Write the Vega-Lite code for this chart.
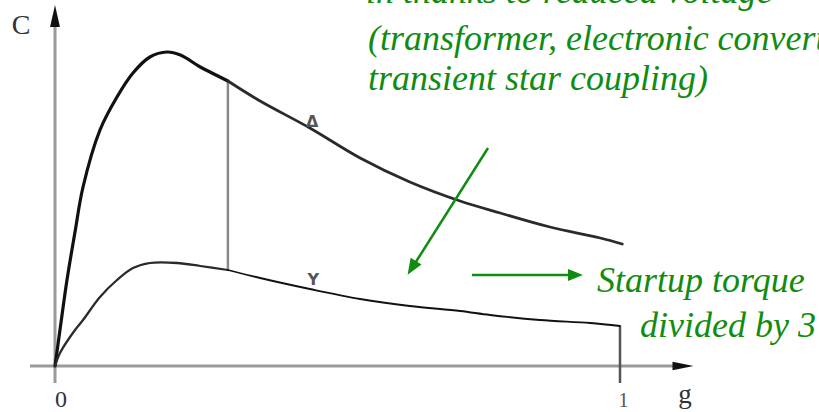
{
  "$schema": "https://vega.github.io/schema/vega-lite/v6.json",
  "width": 819,
  "height": 412,
  "padding": 0,
  "autosize": {"type": "none"},
  "background": "white",
  "config": {"view": {"stroke": null}},
  "encoding": {
    "x": {"field": "g", "type": "quantitative", "scale": {"domain": [-0.09735, 1.35221], "nice": false, "zero": false}, "axis": null},
    "y": {"field": "C", "type": "quantitative", "scale": {"domain": [-0.46, 3.66], "nice": false, "zero": false}, "axis": null}
  },
  "layer": [
    {
      "data": {"values": [
        {"part": "C axis", "g": 0, "C": -0.17, "g2": 0, "C2": 3.4},
        {"part": "g axis", "g": -0.0442, "C": 0, "g2": 1.1, "C2": 0}
      ]},
      "mark": {"type": "rule", "color": "#9a9a9a", "strokeWidth": 3},
      "encoding": {"x2": {"field": "g2"}, "y2": {"field": "C2"}}
    },
    {
      "data": {"values": [{"g": 0, "C": 3.5}]},
      "mark": {"type": "point", "shape": "M0,-1L0.45,1L-0.45,1Z", "size": 484, "filled": true, "color": "#111", "opacity": 1},
      "encoding": {}
    },
    {
      "data": {"values": [{"g": 1.1115, "C": 0}]},
      "mark": {"type": "point", "shape": "M1,0L-1,0.4L-1,-0.4Z", "size": 441, "filled": true, "color": "#111", "opacity": 1},
      "encoding": {}
    },
    {
      "data": {"values": [
        {"part": "switch", "g": 0.306, "C": 2.84, "g2": 0.306, "C2": 0.96}
      ]},
      "mark": {"type": "rule", "color": "#8a8a8a", "strokeWidth": 2.5},
      "encoding": {"x2": {"field": "g2"}, "y2": {"field": "C2"}}
    },
    {
      "data": {"values": [
        {"part": "start", "g": 1.0, "C": 0.4, "g2": 1.0, "C2": -0.17}
      ]},
      "mark": {"type": "rule", "color": "#555", "strokeWidth": 2.5},
      "encoding": {"x2": {"field": "g2"}, "y2": {"field": "C2"}}
    },
    {
      "data": {"values": [
        {"series": "Δ path", "g": 0, "C": 0},
        {"series": "Δ path", "g": 0.0088, "C": 0.36},
        {"series": "Δ path", "g": 0.0212, "C": 0.86},
        {"series": "Δ path", "g": 0.0354, "C": 1.34},
        {"series": "Δ path", "g": 0.0496, "C": 1.79},
        {"series": "Δ path", "g": 0.0796, "C": 2.36},
        {"series": "Δ path", "g": 0.1097, "C": 2.69},
        {"series": "Δ path", "g": 0.138, "C": 2.93},
        {"series": "Δ path", "g": 0.168, "C": 3.09},
        {"series": "Δ path", "g": 0.198, "C": 3.14},
        {"series": "Δ path", "g": 0.222, "C": 3.11},
        {"series": "Δ path", "g": 0.257, "C": 2.99},
        {"series": "Δ path", "g": 0.306, "C": 2.85},
        {"series": "Δ", "g": 0.306, "C": 2.85},
        {"series": "Δ", "g": 0.363, "C": 2.65},
        {"series": "Δ", "g": 0.451, "C": 2.38},
        {"series": "Δ", "g": 0.54, "C": 2.08},
        {"series": "Δ", "g": 0.628, "C": 1.84},
        {"series": "Δ", "g": 0.717, "C": 1.65},
        {"series": "Δ", "g": 0.788, "C": 1.53},
        {"series": "Δ", "g": 0.876, "C": 1.39},
        {"series": "Δ", "g": 0.965, "C": 1.28},
        {"series": "Δ", "g": 1.004, "C": 1.22},
        {"series": "Y", "g": 0, "C": 0},
        {"series": "Y", "g": 0.0088, "C": 0.13},
        {"series": "Y", "g": 0.0354, "C": 0.36},
        {"series": "Y", "g": 0.0496, "C": 0.46},
        {"series": "Y", "g": 0.0796, "C": 0.69},
        {"series": "Y", "g": 0.1097, "C": 0.86},
        {"series": "Y", "g": 0.138, "C": 0.98},
        {"series": "Y", "g": 0.168, "C": 1.03},
        {"series": "Y", "g": 0.216, "C": 1.03},
        {"series": "Y", "g": 0.257, "C": 1.0},
        {"series": "Y", "g": 0.306, "C": 0.96},
        {"series": "Y path", "g": 0.306, "C": 0.96},
        {"series": "Y path", "g": 0.363, "C": 0.88},
        {"series": "Y path", "g": 0.451, "C": 0.77},
        {"series": "Y path", "g": 0.54, "C": 0.67},
        {"series": "Y path", "g": 0.628, "C": 0.6},
        {"series": "Y path", "g": 0.717, "C": 0.55},
        {"series": "Y path", "g": 0.77, "C": 0.51},
        {"series": "Y path", "g": 0.858, "C": 0.46},
        {"series": "Y path", "g": 0.947, "C": 0.43},
        {"series": "Y path", "g": 1.0, "C": 0.4}
      ]},
      "mark": {"type": "line", "interpolate": "catmull-rom", "strokeCap": "round", "strokeJoin": "round"},
      "encoding": {
        "detail": {"field": "series"},
        "color": {"field": "series", "type": "nominal", "scale": {"domain": ["Δ path", "Δ", "Y", "Y path"], "range": ["#111111", "#2a2a2a", "#2a2a2a", "#111111"]}, "legend": null},
        "strokeWidth": {"field": "series", "type": "nominal", "scale": {"domain": ["Δ path", "Δ", "Y", "Y path"], "range": [3.2, 1.8, 1.8, 3.2]}, "legend": null},
        "order": {"field": "g", "type": "quantitative"}
      }
    },
    {
      "data": {"values": [
        {"label": "Δ", "g": 0.455, "C": 2.39},
        {"label": "Y", "g": 0.457, "C": 0.81}
      ]},
      "mark": {"type": "text", "font": "DejaVu Sans", "fontSize": 16, "fontWeight": "bold", "color": "#555", "align": "center", "baseline": "alphabetic"},
      "encoding": {"text": {"field": "label"}}
    },
    {
      "data": {"values": [
        {"label": "C", "g": -0.0602, "C": 3.32}
      ]},
      "mark": {"type": "text", "font": "Liberation Serif", "fontSize": 28, "color": "#333", "align": "center", "baseline": "alphabetic"},
      "encoding": {"text": {"field": "label"}}
    },
    {
      "data": {"values": [
        {"label": "0", "g": 0.0106, "C": -0.41}
      ]},
      "mark": {"type": "text", "font": "Liberation Serif", "fontSize": 24, "color": "#333", "align": "center", "baseline": "alphabetic"},
      "encoding": {"text": {"field": "label"}}
    },
    {
      "data": {"values": [
        {"label": "1", "g": 1.006, "C": -0.41}
      ]},
      "mark": {"type": "text", "font": "Liberation Serif", "fontSize": 20, "color": "#555", "align": "center", "baseline": "alphabetic"},
      "encoding": {"text": {"field": "label"}}
    },
    {
      "data": {"values": [
        {"label": "g", "g": 1.115, "C": -0.37}
      ]},
      "mark": {"type": "text", "font": "Liberation Serif", "fontSize": 27, "color": "#333", "align": "center", "baseline": "alphabetic"},
      "encoding": {"text": {"field": "label"}}
    },
    {
      "data": {"values": [
        {"part": "diagonal", "g": 0.7664, "C": 2.18, "g2": 0.6319, "C2": 0.98},
        {"part": "horizontal", "g": 0.738, "C": 0.91, "g2": 0.915, "C2": 0.91}
      ]},
      "mark": {"type": "rule", "color": "#108c10", "strokeWidth": 2.5},
      "encoding": {"x2": {"field": "g2"}, "y2": {"field": "C2"}}
    },
    {
      "data": {"values": [{"g": 0.6316, "C": 0.98}]},
      "mark": {"type": "point", "shape": "M0,-1L0.8,1L-0.8,1Z", "size": 256, "angle": 212, "filled": true, "color": "#108c10", "opacity": 1},
      "encoding": {}
    },
    {
      "data": {"values": [{"g": 0.9212, "C": 0.91}]},
      "mark": {"type": "point", "shape": "M1,0L-1,0.8L-1,-0.8Z", "size": 225, "filled": true, "color": "#108c10", "opacity": 1},
      "encoding": {}
    },
    {
      "data": {"values": [
        {"line": "in thanks to reduced voltage", "g": 0.5504, "C": 3.63},
        {"line": "(transformer, electronic converter,", "g": 0.554, "C": 3.16},
        {"line": "transient star coupling)", "g": 0.554, "C": 2.76}
      ]},
      "mark": {"type": "text", "font": "Liberation Serif", "fontStyle": "italic", "fontSize": 36, "color": "#108c10", "align": "left", "baseline": "alphabetic", "clip": true},
      "encoding": {"text": {"field": "line"}}
    },
    {
      "data": {"values": [
        {"line": "Startup torque", "g": 0.9593, "C": 0.74},
        {"line": "divided by 3", "g": 1.0354, "C": 0.29}
      ]},
      "mark": {"type": "text", "font": "Liberation Serif", "fontStyle": "italic", "fontSize": 36, "color": "#108c10", "align": "left", "baseline": "alphabetic", "clip": true},
      "encoding": {"text": {"field": "line"}}
    }
  ]
}
